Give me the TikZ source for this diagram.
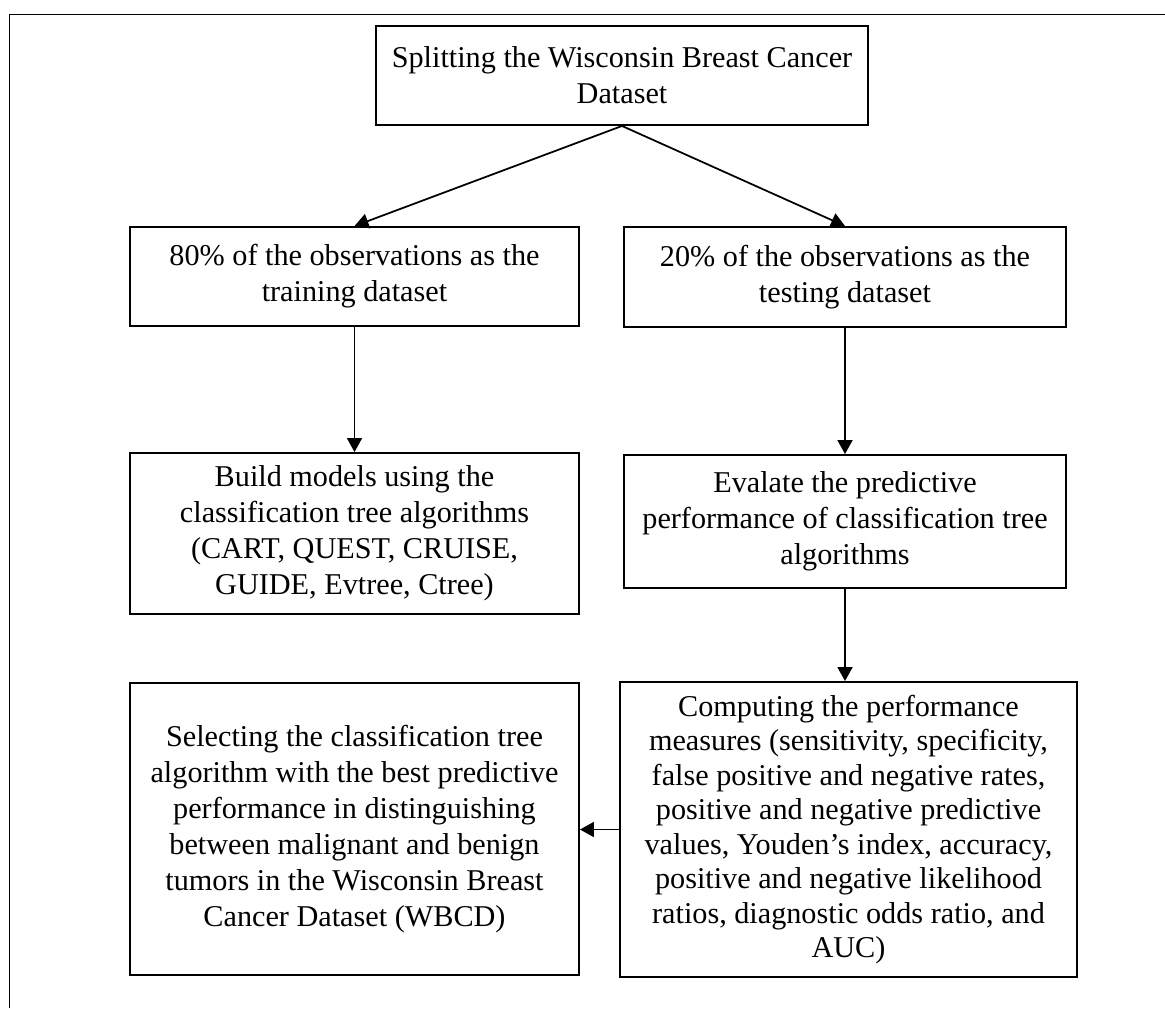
\documentclass[tikz,border=0pt]{standalone}
\usepackage{fontspec}
\setmainfont{Liberation Serif}
\usepackage{tikz}
\usetikzlibrary{arrows.meta}
\tikzstyle{process} = [rectangle, text centered, align=center, draw=black, line width=1.1pt, inner sep=0pt, font=\fontsize{17.2pt}{20.5pt}\selectfont]
\tikzstyle{arrow} = [line width=1pt, -{Triangle[length=2.8mm, width=3mm]}]

\begin{document}
\begin{tikzpicture}[x=0.02cm, y=-0.02cm]
		\useasboundingbox (0,0) rectangle (1165,1008);
		\draw [line width=1.1pt] (9.5,1008) |- (1165,14.5);
		
		\node (split) [process, minimum width=9.84cm, minimum height=1.98cm] at (622,75.5) {Splitting the Wisconsin Breast Cancer\\Dataset};
		\node (train) [process, minimum width=8.98cm, minimum height=1.98cm] at (354.5,276.5) {80\% of the observations as the\\training dataset};
		\node (test) [process, minimum width=8.84cm, minimum height=2cm] at (845,277) {20\% of the observations as the\\testing dataset};
		\node (build) [process, minimum width=8.98cm, minimum height=3.22cm] at (354.5,533.5) {Build models using the\\classification tree algorithms\\(CART, QUEST, CRUISE,\\GUIDE, Evtree, Ctree)};
		\node (eval) [process, minimum width=8.84cm, minimum height=2.66cm] at (845,521.5) {Evalate the predictive\\performance of classification tree\\algorithms};
		\node (compute) [process, minimum width=9.14cm, minimum height=5.9cm, font=\fontsize{17.2pt}{19.6pt}\selectfont] at (848.5,829.5) {Computing the performance\\measures (sensitivity, specificity,\\false positive and negative rates,\\positive and negative predictive\\values, Youden’s index, accuracy,\\positive and negative likelihood\\ratios, diagnostic odds ratio, and\\AUC)};
		\node (select) [process, minimum width=8.98cm, minimum height=5.84cm] at (354.5,829) {Selecting the classification tree\\algorithm with the best predictive\\performance in distinguishing\\between malignant and benign\\tumors in the Wisconsin Breast\\Cancer Dataset (WBCD)};
		
		\draw [arrow] (split.south) -- (train.north);
		\draw [arrow] (split.south) -- (test.north);
		\draw [arrow] (train) -- (build);
		\draw [arrow] (test) -- (eval);
		\draw [arrow] (eval.south) -- (eval.south |- compute.north);
		\draw [arrow] (compute.west) -- (compute.west -| select.east);
	\end{tikzpicture}
\end{document}
